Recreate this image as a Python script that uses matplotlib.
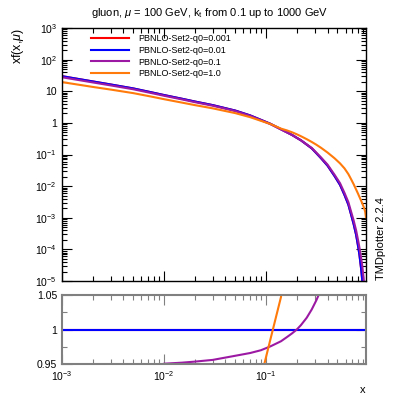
import numpy as np
import matplotlib
matplotlib.use("Agg")
import matplotlib.pyplot as plt
from matplotlib.ticker import FixedLocator, NullFormatter, LogLocator

plt.rcParams['font.family'] = ['Liberation Sans', 'DejaVu Sans']
plt.rcParams['mathtext.fontset'] = 'custom'
plt.rcParams['mathtext.rm'] = 'Liberation Sans'
plt.rcParams['mathtext.it'] = 'Liberation Sans:italic'

# x grid and gluon xf(x,mu) for the reference set q0=0.001
x = [1e-3, 2e-3, 3e-3, 5e-3, 7.5e-3, 1e-2, 1.5e-2, 2e-2, 3e-2, 5e-2, 7e-2, 0.089,
     0.11, 0.14, 0.16, 0.18, 0.2, 0.22, 0.25, 0.28, 0.31, 0.346, 0.4, 0.468, 0.53,
     0.586, 0.64, 0.681, 0.72, 0.762, 0.8, 0.822, 0.85, 0.873, 0.9, 0.92, 0.935, 0.95]
xf_ref = [30, 20.5, 16.4, 12.3, 9.3, 7.6, 5.8, 4.75, 3.65, 2.45, 1.72, 1.25,
          0.94, 0.63, 0.505, 0.415, 0.337, 0.28, 0.206, 0.157, 0.111, 0.076, 0.0445, 0.021, 0.011,
          0.0053, 0.0026, 0.00125, 6.4e-4, 2.9e-4, 1.17e-4, 6.6e-5, 2.7e-5, 1.16e-5, 3e-6, 8e-7,
          3e-7, 1e-7]

# ratios to q0=0.001
ratio_q001 = [1.0] * len(x)
ratio_q01 = [0.925, 0.93, 0.935, 0.94, 0.945, 0.9505, 0.952, 0.9535, 0.956, 0.962, 0.966, 0.970,
             0.9755, 0.983, 0.989, 0.9945, 1.0, 1.0065, 1.017, 1.029, 1.042, 1.058, 1.08, 1.1, 1.13,
             1.16, 1.2, 1.24, 1.3, 1.38, 1.55, 1.7, 2.1, 2.8, 4.5, 8, 12, 20]
ratio_q1 = [0.65, 0.67, 0.69, 0.71, 0.73, 0.74, 0.755, 0.77, 0.79, 0.83, 0.88, 0.93,
            0.985, 1.047, 1.147, 1.214, 1.295, 1.35, 1.486, 1.592, 1.85, 2.14, 2.6, 3.64, 4.78,
            6.9, 9.25, 13.2, 18.1, 27, 47.6, 69, 132, 252, 762, 2340,
            5150, 10540]

labels = ['PBNLO-Set2-q0=0.001', 'PBNLO-Set2-q0=0.01', 'PBNLO-Set2-q0=0.1', 'PBNLO-Set2-q0=1.0']
colors = ['#ff0000', '#0000ff', '#9c1aa3', '#ff7a0a']
ratios = [ratio_q001, ratio_q001, ratio_q01, ratio_q1]

fig = plt.figure(figsize=(4.07, 3.97), dpi=100)
ax = fig.add_axes([0.152, 0.292, 0.747, 0.6375])
rax = fig.add_axes([0.152, 0.083, 0.747, 0.174])

xa = np.array(x)
ref = np.array(xf_ref)
for lab, c, r in zip(labels, colors, ratios):
    ax.plot(xa, ref * np.array(r), color=c, lw=1.5, label=lab)
    rax.plot(xa, np.array(r), color=c, lw=1.5)

for a in (ax, rax):
    a.set_xscale('log')
    a.set_xlim(1e-3, 0.95)
    a.tick_params(which='both', direction='in', top=True, right=True, labelsize=7.5)
    a.tick_params(which='major', length=7, width=0.8)
    a.tick_params(which='minor', length=3.5, width=0.8)
    a.xaxis.set_major_locator(FixedLocator([1e-3, 1e-2, 1e-1]))
    a.xaxis.set_minor_locator(LogLocator(base=10, subs=np.arange(2, 10)))
    a.xaxis.set_minor_formatter(NullFormatter())

ax.set_yscale('log')
ax.set_ylim(1e-5, 1e3)
ax.yaxis.set_major_locator(FixedLocator([1e-5, 1e-4, 1e-3, 1e-2, 1e-1, 1, 10, 100, 1000]))
ax.yaxis.set_minor_locator(LogLocator(base=10, subs=np.arange(2, 10)))
ax.yaxis.set_minor_formatter(NullFormatter())
ax.set_yticklabels([r'$10^{-5}$', r'$10^{-4}$', r'$10^{-3}$', r'$10^{-2}$', r'$10^{-1}$',
                    '1', '10', r'$10^{2}$', r'$10^{3}$'])
ax.set_xticklabels([])
for s in ax.spines.values():
    s.set_linewidth(1.0)

rax.set_ylim(0.95, 1.05)
rax.yaxis.set_major_locator(FixedLocator([0.95, 1.0, 1.05]))
rax.yaxis.set_minor_locator(FixedLocator([0.975, 1.025]))
rax.set_yticklabels(['0.95', '1', '1.05'])
rax.set_xticklabels([r'$10^{-3}$', r'$10^{-2}$', r'$10^{-1}$'])
for s in rax.spines.values():
    s.set_color('#808080')
    s.set_linewidth(1.5)
rax.tick_params(which='both', color='#808080')

ax.legend(loc='upper left', bbox_to_anchor=(0.085, 0.99), frameon=False, fontsize=6.5,
          handlelength=4.2, handletextpad=1.0, labelspacing=0.3, borderaxespad=0)

fig.text(0.515, 0.968, r'gluon, $\mu$ = 100 GeV, k$_{\rm t}$ from 0.1 up to 1000 GeV',
         ha='center', va='center', fontsize=8)
fig.text(0.045, 0.93, r'xf(x,$\mu$)', rotation=90, ha='center', va='top', fontsize=9)
fig.text(0.892, 0.018, 'x', ha='center', va='center', fontsize=8)
fig.text(0.935, 0.295, 'TMDplotter 2.2.4', rotation=90, ha='center', va='bottom', fontsize=8)

fig.savefig('out.png', dpi=100)
